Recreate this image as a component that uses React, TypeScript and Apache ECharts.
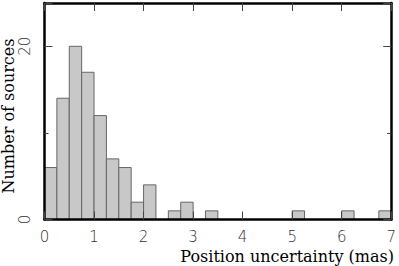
import React, { useEffect, useRef } from "react";
import * as echarts from "echarts";

const binWidth = 0.25;
const binStarts = [0, 0.25, 0.5, 0.75, 1.0, 1.25, 1.5, 1.75, 2.0, 2.5, 2.75, 3.25, 5.0, 6.0, 6.75];
const counts = [6, 14, 20, 17, 12, 7, 6, 2, 4, 1, 2, 1, 1, 1, 1];
const xTicks = [0, 1, 2, 3, 4, 5, 6, 7];
const yLabels = [0, 20];
const xName = "Position uncertainty (mas)";
const yName = "Number of sources";

export default function App() {
  const ref = useRef<HTMLDivElement>(null);
  useEffect(() => {
    if (!ref.current) return;
    const chart = echarts.init(ref.current, null, { renderer: "svg" });
    const data = binStarts.map((s, i) => [s, s + binWidth, counts[i]]);
    const tickFont = {
      fontFamily: "DejaVu Sans",
      fontWeight: 200 as any,
      fontSize: 15,
      lineHeight: 10,
      color: "#333",
    };
    const axisLine = { show: true, onZero: false, lineStyle: { color: "#000", width: 2.5 } };
    const axisTick = { show: true, inside: true, length: 8, lineStyle: { color: "#444", width: 1 } };
    const minorTick = { show: true, splitNumber: 2, length: 4, lineStyle: { color: "#444", width: 1 } };
    chart.setOption({
      animation: false,
      grid: { left: 44.5, right: 7, top: 3, bottom: 46.5, containLabel: false },
      xAxis: [
        {
          type: "value",
          min: 0,
          max: 7,
          interval: 1,
          position: "bottom",
          z: 10,
          axisLine,
          axisTick,
          splitLine: { show: false },
          axisLabel: {
            ...tickFont,
            margin: 12,
            formatter: (v: number) => (xTicks.includes(v) ? String(v) : ""),
          },
        },
        {
          type: "value",
          min: 0,
          max: 7,
          interval: 1,
          position: "top",
          z: 10,
          axisLine,
          axisTick,
          splitLine: { show: false },
          axisLabel: { show: false },
        },
      ],
      yAxis: [
        {
          type: "value",
          min: 0,
          max: 25,
          interval: 20,
          position: "left",
          z: 10,
          axisLine,
          axisTick,
          minorTick,
          splitLine: { show: false },
          axisLabel: {
            ...tickFont,
            rotate: 90,
            margin: 15,
            formatter: (v: number) => (yLabels.includes(v) ? String(v) : ""),
          },
        },
        {
          type: "value",
          min: 0,
          max: 25,
          interval: 20,
          position: "right",
          z: 10,
          axisLine,
          axisTick,
          minorTick,
          splitLine: { show: false },
          axisLabel: { show: false },
        },
      ],
      graphic: [
        {
          type: "text",
          right: 5,
          top: 248,
          style: {
            text: xName,
            font: "16px 'DejaVu Serif'",
            lineHeight: 12,
            fill: "#000",
          },
        },
        {
          type: "text",
          x: 0,
          y: 116,
          rotation: Math.PI / 2,
          style: {
            text: yName,
            font: "16px 'DejaVu Serif'",
            fill: "#000",
            align: "center",
            verticalAlign: "top",
          },
        },
      ],
      series: [
        {
          type: "custom",
          xAxisIndex: 0,
          yAxisIndex: 0,
          encode: { x: [0, 1], y: 2 },
          data,
          renderItem: (params: any, api: any) => {
            const x0 = api.value(0);
            const x1 = api.value(1);
            const y = api.value(2);
            const p0 = api.coord([x0, y]);
            const p1 = api.coord([x1, 0]);
            return {
              type: "rect",
              shape: { x: p0[0], y: p0[1], width: p1[0] - p0[0], height: p1[1] - p0[1] },
              style: { fill: "#c8c8c8", stroke: "#666", lineWidth: 1 },
            };
          },
        },
      ],
    });
    return () => chart.dispose();
  }, []);
  return (
    <div
      ref={ref}
      style={{ position: "fixed", left: 0, top: 0, width: 399, height: 266, background: "#fff" }}
    />
  );
}
